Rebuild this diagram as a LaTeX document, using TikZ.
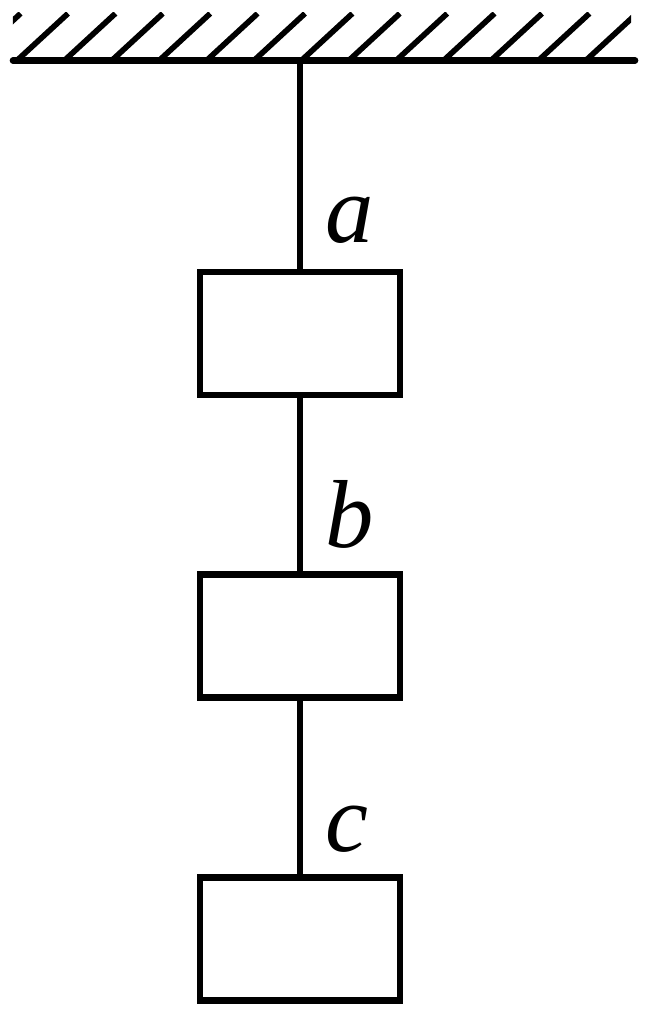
\documentclass[tikz,border=0pt]{standalone}
\usepackage{fontspec}
\setmainfont{Liberation Serif}
\usepackage{tikz}

\begin{document}
\begin{tikzpicture}[line width = 3.5pt,
  mass/.style = {draw, rectangle, inner sep = 0pt,
    minimum width = 4cm, minimum height = 2.46cm},
  tag/.style = {anchor = base west, inner sep = 0pt,
    font = \fontsize{55}{55}\selectfont\itshape}]
\useasboundingbox (0, 0) rectangle (12.92, 20.3);
% ceiling
\begin{scope}
\clip (0.26, 18.9) rectangle (12.62, 20.04);
\foreach \k in {-1, ..., 12}
  \draw [line width = 3.2pt] ({0.34 + 0.948*\k}, 19.09) -- ({1.36 + 0.948*\k}, 20.03);
\end{scope}
\draw [line width = 3.8pt, line cap = round] (0.26, 19.09) -- (12.7, 19.09);
\coordinate (hook) at (6, 19.09);
% masses
\node (m1) [mass] at (6, 13.63) {};
\node (m2) [mass] at (6, 7.58) {};
\node (m3) [mass] at (6, 1.52) {};
\draw (hook) -- (m1.north);
\draw (m1.south) -- (m2.north);
\draw (m2.south) -- (m3.north);
\node (la) [tag] at (6.44, 15.44) {a};
\node (lb) [tag] at (6.44, 9.34) {b};
\node (lc) [tag] at (6.44, 3.26) {c};
\end{tikzpicture}
\end{document}
